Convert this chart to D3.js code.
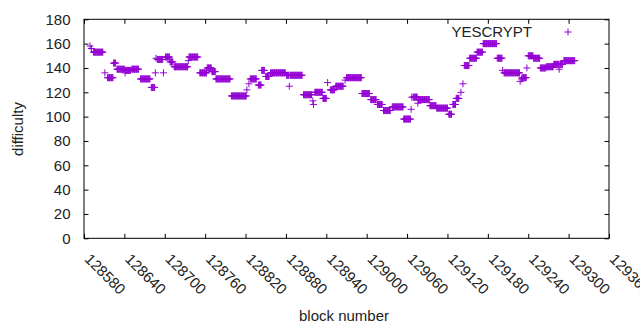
<!DOCTYPE html>
<html>
<head>
<meta charset="utf-8">
<script src="https://cdn.jsdelivr.net/npm/d3@7"></script>
<style>
  body { margin: 0; background: #fff; }
  text { font-family: "Liberation Sans", Arial, sans-serif; font-size: 15px; fill: #222; }
</style>
</head>
<body>
<div id="chart"></div>
<script>
// runs of consecutive blocks sharing one difficulty (single blocks have start == end)
var runStart = [128589, 128591, 128594, 128611, 128615, 128624, 128629, 128641, 128642, 128651,
  128664, 128680, 128686, 128687, 128689, 128698, 128701, 128708, 128714, 128735,
  128736, 128752, 128763, 128770, 128776, 128799, 128822, 128825, 128827, 128839,
  128844, 128850, 128857, 128881, 128885, 128886, 128906, 128920, 128921, 128923,
  128935, 128942, 128946, 128954, 128968, 128970, 128993, 129006, 129016, 129025,
  129038, 129055, 129066, 129067, 129069, 129076, 129077, 129094, 129104, 129122,
  129128, 129133, 129140, 129143, 129145, 129153, 129164, 129173, 129194, 129202,
  129204, 129228, 129230, 129231, 129238, 129240, 129248, 129258, 129267, 129278,
  129286, 129287, 129293];
var runEnd = [128589, 128591, 128608, 128611, 128623, 128627, 128640, 128641, 128649, 128661,
  128678, 128685, 128686, 128687, 128697, 128698, 128707, 128712, 128734, 128735,
  128749, 128762, 128769, 128775, 128797, 128821, 128822, 128825, 128836, 128843,
  128848, 128855, 128879, 128884, 128885, 128904, 128918, 128920, 128921, 128934,
  128940, 128942, 128952, 128965, 128968, 128992, 129004, 129014, 129023, 129035,
  129054, 129065, 129066, 129067, 129075, 129076, 129093, 129103, 129120, 129126,
  129132, 129137, 129140, 129143, 129152, 129163, 129172, 129193, 129201, 129202,
  129227, 129228, 129230, 129237, 129238, 129247, 129257, 129266, 129277, 129285,
  129286, 129291, 129309];
var runDiff = [158, 156, 153, 136, 132, 144, 139, 136, 138, 139,
  131, 124, 136, 148, 147, 136, 149, 145, 141, 146,
  149, 136, 140, 137, 131, 117, 122, 127, 131, 126,
  138, 133, 136, 134, 125, 134, 118, 113, 110, 120,
  115, 128, 122, 125, 130, 132, 119, 114, 110, 105,
  108, 98, 106, 116, 116, 111, 114, 109, 107, 102,
  110, 115, 120, 127, 142, 148, 153, 160, 148, 138,
  136, 129, 131, 132, 140, 150, 148, 140, 141, 143,
  139, 143, 146];

var xTicks = [128580, 128640, 128700, 128760, 128820, 128880, 128940, 129000,
  129060, 129120, 129180, 129240, 129300, 129360];
var yTicks = [0, 20, 40, 60, 80, 100, 120, 140, 160, 180];
var seriesName = "YESCRYPT";

var points = [];
runStart.forEach(function(s, i) {
  for (var b = s; b <= runEnd[i]; b++) points.push({ block: b, difficulty: runDiff[i] });
});

var width = 640, height = 330;
var plotLeft = 84, plotRight = 609, plotTop = 19.3, plotBottom = 238.3;
var color = "#9400d3";

var svg = d3.select("#chart").append("svg")
  .attr("width", width)
  .attr("height", height);

var x = d3.scaleLinear().domain([128580, 129360]).range([plotLeft, plotRight]);
var y = d3.scaleLinear().domain([0, 180]).range([plotBottom, plotTop]);

var plus = "M-3.5,0H3.5M0,-3.5V3.5";

// axes with inward ticks, gnuplot style
var xAxis = svg.append("g")
  .attr("transform", "translate(0," + plotBottom + ")")
  .call(d3.axisBottom(x).tickValues(xTicks).tickSize(-4.5).tickFormat(d3.format("d")));
xAxis.selectAll("text")
  .attr("x", null).attr("y", null).attr("dy", "0.35em")
  .attr("text-anchor", "start")
  .attr("transform", "translate(3,18) rotate(45)");

svg.append("g")
  .attr("transform", "translate(0," + plotTop + ")")
  .call(d3.axisTop(x).tickValues(xTicks.slice(0, -1)).tickSize(-4.5).tickFormat(""));

svg.append("g")
  .attr("transform", "translate(" + plotLeft + ",0)")
  .call(d3.axisLeft(y).tickValues(yTicks).tickSize(-4.5).tickPadding(13.5));

svg.append("g")
  .attr("transform", "translate(" + plotRight + ",0)")
  .call(d3.axisRight(y).tickValues(yTicks).tickSize(-4.5).tickFormat(""));

svg.selectAll(".domain").remove();
svg.selectAll(".tick line").attr("stroke", "#000");
svg.selectAll(".tick text").attr("font-family", null).attr("font-size", null).attr("fill", "#222");

svg.append("rect")
  .attr("x", plotLeft).attr("y", plotTop)
  .attr("width", plotRight - plotLeft).attr("height", plotBottom - plotTop)
  .attr("fill", "none").attr("stroke", "#000").attr("stroke-width", 1);

// points
svg.append("g")
  .selectAll("path")
  .data(points)
  .enter()
  .append("path")
  .attr("d", plus)
  .attr("transform", function(d) { return "translate(" + x(d.block) + "," + y(d.difficulty) + ")"; })
  .attr("fill", "none")
  .attr("stroke", color)
  .attr("stroke-width", 1);

// legend
svg.append("text")
  .attr("x", 532).attr("y", 31)
  .attr("text-anchor", "end")
  .attr("dominant-baseline", "central")
  .text(seriesName);
svg.append("path")
  .attr("d", plus)
  .attr("transform", "translate(568,32)")
  .attr("fill", "none").attr("stroke", color).attr("stroke-width", 1);

// axis titles
svg.append("text")
  .attr("transform", "translate(17,129) rotate(-90)")
  .attr("text-anchor", "middle")
  .attr("dominant-baseline", "central")
  .text("difficulty");
svg.append("text")
  .attr("x", 344).attr("y", 315)
  .attr("text-anchor", "middle")
  .attr("dominant-baseline", "central")
  .text("block number");
</script>
</body>
</html>
